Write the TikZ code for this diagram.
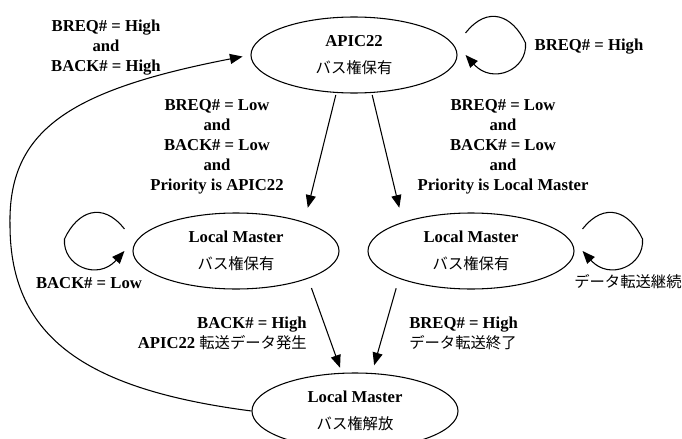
\documentclass[tikz,border=0pt]{standalone}
\usepackage{fontspec}
\setmainfont{Liberation Serif}
\newfontfamily\jpfont[Scale=0.92]{Noto Sans CJK JP}
\newcommand{\jtext}[1]{{\jpfont\mdseries #1}}
\usepackage{tikz}
\usetikzlibrary{calc}
\usetikzlibrary{arrows.meta,shapes.geometric}

\tikzset{
  state/.style={draw, ellipse, line width=0.8pt, minimum width=154.5pt, minimum height=57pt,
    inner sep=0pt, align=center, font=\fontsize{12.5}{20}\selectfont\bfseries},
  edge/.style={line width=0.8pt, -{Triangle[length=9.5pt,width=7.5pt]}},
  cond/.style={align=center, inner sep=0pt, font=\fontsize{12.5}{15}\selectfont\bfseries}
}

\begin{document}
\begin{tikzpicture}[x=0.75pt, y=-0.75pt]
\useasboundingbox (0,0) rectangle (682,439);

% States
\node[state] (apic) at (354,55) {APIC22\\\jtext{バス権保有}};
\node[state] (lmleft) at (236,251) {Local Master\\\jtext{バス権保有}};
\node[state] (lmright) at (471,251) {Local Master\\\jtext{バス権保有}};
\node[state] (lmfree) at (355,411) {Local Master\\\jtext{バス権解放}};

% Conditions
\node[cond] (cback) at (106,48) {BREQ\# = High\\and\\BACK\# = High};
\node[cond] (capic) at (589,47) {BREQ\# = High};
\node[cond] (cleft) at (217,147) {BREQ\# = Low\\and\\BACK\# = Low\\and\\Priority is APIC22};
\node[cond] (cright) at (503,147) {BREQ\# = Low\\and\\BACK\# = Low\\and\\Priority is Local Master};
\node[cond] (cloopl) at (89,283) {BACK\# = Low};
\node[cond, anchor=west] (cloopr) at (574,282) {\jtext{データ転送継続}};
\node[cond, align=right, anchor=east] (cfreel) at (307,333) {BACK\# = High\\APIC22 \jtext{転送データ発生}};
\node[cond, align=left, anchor=west] (cfreer) at (409,333) {BREQ\# = High\\\jtext{データ転送終了}};

% Transitions
\draw[edge, shorten <=1.5pt, shorten >=11pt] (apic.245) -- (lmleft.23);
\draw[edge, shorten <=1.5pt, shorten >=11pt] (apic.295) -- (lmright.157);
\draw[edge, shorten <=7.5pt, shorten >=4pt] (lmleft.-21) -- (lmfree.109);
\draw[edge, shorten <=7.5pt, shorten >=6pt] (lmright.201) -- (lmfree.66);

% Back to APIC22
\draw[edge, shorten >=6pt] (lmfree.west) .. controls (90,390) and (10,340) .. (10,225)
  .. controls (8,130) and (70,90) .. (apic.west);

% Self loops
\begin{scope}[shift={(apic.east)}]
\draw[edge] (8,-22) .. controls (30,-50) and (55,-40) .. (68,-12) .. controls (70,15) and (35,30) .. (8,0);
\end{scope}
\begin{scope}[shift={(lmright.east)}]
\draw[edge] (8,-22) .. controls (30,-50) and (55,-40) .. (68,-12) .. controls (70,15) and (35,30) .. (8,0);
\end{scope}
\begin{scope}[shift={(lmleft.west)}, xscale=-1]
\draw[edge] (8,-22) .. controls (30,-50) and (55,-40) .. (68,-12) .. controls (70,15) and (35,30) .. (8,0);
\end{scope}
\end{tikzpicture}
\end{document}
